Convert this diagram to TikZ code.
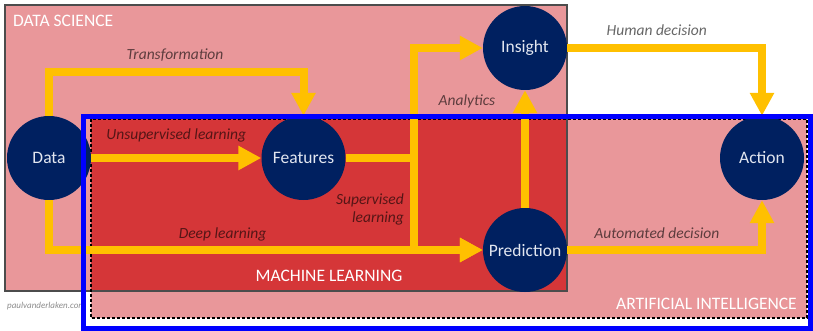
\documentclass[tikz,border=0pt]{standalone}
\usepackage{fontspec}
\setmainfont{Carlito}
\usetikzlibrary{arrows.meta}

\definecolor{dsPink}{HTML}{E9979A}
\definecolor{mlRed}{HTML}{D53638}
\definecolor{navy}{HTML}{002060}
\definecolor{flowYellow}{HTML}{FFC000}
\definecolor{nodeText}{HTML}{E2E6F0}

\tikzstyle{topic node} = [circle, fill=navy, minimum size=84pt, inner sep=0,
                          text=nodeText, font=\fontsize{17.5}{17.5}\selectfont]
\tikzstyle{flow}       = [draw=flowYellow, line width=8pt, line join=miter,
                          -{Triangle[length=23pt,width=23pt]}]
\tikzstyle{flow label} = [font=\fontsize{15.5}{18}\selectfont\itshape,
                          text=black, text opacity=0.6, inner sep=0]
\tikzstyle{tag}        = [flow label, anchor=base, yshift=12pt]
\tikzstyle{area label} = [font=\fontsize{17.5}{17.5}\selectfont, text=white, inner sep=0]

\begin{document}
\begin{tikzpicture}[x=1pt, y=-1pt]

    \useasboundingbox (0,0) rectangle (813,331);

    % Fields: data science, AI, and machine learning where they overlap
    \fill[dsPink] (5,5) rectangle (567,291);
    \fill[dsPink] (91,119) rectangle (807,318);
    \fill[mlRed]  (91,119) rectangle (567,291);
    \draw[black!70, line width=1.2pt] (5,5) rectangle (567,291);
    \draw[line width=1.1pt, dash pattern=on 3pt off 2pt] (91,119) rectangle (807,318);

    \node[area label, anchor=west] (dslbl) at (13,21)  {DATA SCIENCE};
    \node[area label]              (mllbl) at (329,276) {MACHINE LEARNING};
    \node[area label, anchor=east] (ailbl) at (797,304) {ARTIFICIAL INTELLIGENCE};
    \node[font=\fontsize{9}{9}\selectfont\itshape, text=black!45, anchor=west, inner sep=0]
        (credit) at (7,306) {paulvanderlaken.com};

    \node[topic node] (data)       at (49,158)    {Data};
    \node[topic node] (features)   at (303.5,158) {Features};
    \node[topic node] (insight)    at (525,48)    {Insight};
    \node[topic node] (prediction) at (525,250)   {Prediction};
    \node[topic node] (action)     at (762,158)   {Action};

    \coordinate (trans) at (175,72);
    \coordinate (split) at (414,158);

    % Data to features and prediction
    \draw[flow] (data) |- (trans) node[tag] (translbl) {Transformation} -| (features);
    \draw[flow] (data) -- (features) node[tag, pos=0.5, yshift=6pt] (unsuplbl) {Unsupervised learning};
    \draw[flow] (data) |- (prediction) node[tag, pos=0.7] (deeplbl) {Deep learning};

    % Features on to insight and prediction
    \draw[flow] (features) -- (split) |- (insight);
    \draw[flow] (split) |- (prediction);
    \draw[flow] (prediction) -- (insight);
    \node[flow label] (analyticslbl) at (467,101) {Analytics};
    \node[flow label, align=right, anchor=east] (suplbl) at (404,209) {Supervised\\learning};

    % Decisions
    \draw[flow] (insight) -| (action) node[tag, pos=0.23] (humanlbl) {Human decision};
    \draw[flow] (prediction) -| (action) node[tag, pos=0.23] (autolbl) {Automated decision};

    \draw[blue, line width=5pt] (83.5,116.5) rectangle (810.5,328.5);

\end{tikzpicture}
\end{document}
